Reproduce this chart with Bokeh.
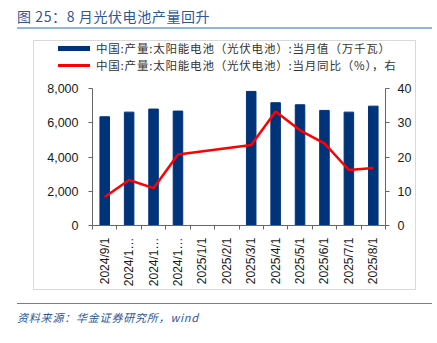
import math
from bokeh.plotting import figure
from bokeh.layouts import column
from bokeh.models import (Range1d, LinearAxis, FixedTicker, NumeralTickFormatter,
                          ColumnDataSource, Div)
from bokeh.embed import file_html
from bokeh.resources import INLINE

# ---- data ----
categories = ["2024/9/1", "2024/1…", "2024/1…", "2024/1…", "2025/1/1", "2025/2/1",
              "2025/3/1", "2025/4/1", "2025/5/1", "2025/6/1", "2025/7/1", "2025/8/1"]
output_10mw = [6350, 6620, 6800, 6680, None, None, 7830, 7170, 7050, 6720, 6620, 6970]
yoy_pct = [8.3, 13.3, 10.9, 20.7, None, None, 23.5, 33.3, 27.8, 24.0, 16.2, 16.8]
left_ticks = [0, 2000, 4000, 6000, 8000]
right_ticks = [0, 10, 20, 30, 40]
bar_label = "中国:产量:太阳能电池（光伏电池）:当月值（万千瓦）"
line_label = "中国:产量:太阳能电池（光伏电池）:当月同比（%），右"
title_text = "图 25：8 月光伏电池产量回升"
source_text = "资料来源：华金证券研究所，wind"

NAVY = "#00337A"
RED = "#FF0000"
AXIS = "#666666"
CJK = "Noto Sans CJK SC"
NUM = "Liberation Sans"

pos = [i + 0.5 for i in range(len(categories))]
bar_src = ColumnDataSource(dict(
    x=[p_ for p_, v in zip(pos, output_10mw) if v is not None],
    top=[v for v in output_10mw if v is not None]))
line_src = ColumnDataSource(dict(
    x=[p_ for p_, v in zip(pos, yoy_pct) if v is not None],
    y=[v for v in yoy_pct if v is not None]))

# ---- main chart ----
p = figure(width=381, height=213, output_backend="svg", toolbar_location=None,
           title=None, x_range=Range1d(0, len(categories)), y_range=Range1d(0, 8000),
           min_border_left=58, min_border_right=30, min_border_top=12, min_border_bottom=63,
           background_fill_color="white", border_fill_color="white")
p.outline_line_color = None
p.grid.visible = False
p.extra_y_ranges = {"yoy": Range1d(0, 40)}

p.vbar(x="x", top="top", bottom=0, width=0.39, source=bar_src,
       fill_color=NAVY, line_color=NAVY)
p.line(x="x", y="y", source=line_src, y_range_name="yoy",
       line_color=RED, line_width=2.5)

xa = p.xaxis[0]
xa.ticker = FixedTicker(ticks=pos, minor_ticks=list(range(len(categories) + 1)))
xa.major_label_overrides = {pp: c for pp, c in zip(pos, categories)}
xa.major_label_orientation = math.pi / 2
xa.major_tick_line_color = None
xa.minor_tick_line_color = AXIS
xa.minor_tick_out = 4
xa.minor_tick_in = 0
xa.axis_line_color = AXIS
xa.major_label_text_font = NUM
xa.major_label_text_font_size = "12px"
xa.major_label_text_color = "#1a1a1a"
xa.major_label_standoff = 6

ya = p.yaxis[0]
ya.ticker = FixedTicker(ticks=left_ticks)
ya.formatter = NumeralTickFormatter(format="0,0")
ya.major_tick_out = 4
ya.major_tick_in = 0
ya.minor_tick_line_color = None
ya.axis_line_color = AXIS
ya.major_tick_line_color = AXIS
ya.major_label_text_font = NUM
ya.major_label_text_font_size = "12.5px"
ya.major_label_text_color = "#1a1a1a"
ya.major_label_standoff = 10

ra = LinearAxis(y_range_name="yoy", ticker=FixedTicker(ticks=right_ticks))
ra.major_tick_out = 4
ra.major_tick_in = 0
ra.minor_tick_line_color = None
ra.axis_line_color = AXIS
ra.major_tick_line_color = AXIS
ra.major_label_text_font = NUM
ra.major_label_text_font_size = "12.5px"
ra.major_label_text_color = "#1a1a1a"
ra.major_label_standoff = 8
p.add_layout(ra, "right")

# ---- legend strip ----
def legend_row(swatch_h, color, label):
    return (f'<div style="height:17px;display:flex;align-items:center;padding-left:24px;">'
            f'<span style="display:inline-block;width:32px;height:{swatch_h}px;'
            f'background:{color};margin-right:6px;"></span>{label}</div>')

legend_div = Div(
    text=(f'<div style="font-family:\'{CJK}\';font-size:11.5px;color:#333333;letter-spacing:0.8px;'
          f'white-space:nowrap;margin-top:-1px;line-height:17px;">'
          + legend_row(5, NAVY, bar_label) + legend_row(2.5, RED, line_label) + '</div>'),
    width=381, height=35, margin=0)

chart_box = column(legend_div, p, spacing=0, margin=(11, 0, 0, 33),
                   styles={"border": "1px solid #D9D9D9"})

title_div = Div(
    text=(f'<div style="font-family:\'{CJK}\';font-size:14px;color:#2F5597;letter-spacing:0.6px;'
          f'padding-top:7px;line-height:18px;white-space:nowrap;">{title_text}</div>'),
    width=415, height=29, margin=(0, 0, 0, 17),
    styles={"border-bottom": "2px solid #8DB8E0"})

source_div = Div(
    text=(f'<div style="font-family:\'{CJK}\';font-size:11px;color:#2F5597;font-style:italic;'
          f'letter-spacing:0.8px;padding-top:6px;line-height:14px;white-space:nowrap;">'
          f'{source_text}</div>'),
    width=415, height=36, margin=(13, 0, 0, 17),
    styles={"border-top": "1.5px solid #3C8DD6"})

layout = column(title_div, chart_box, source_div, spacing=0)
open("out.html", "w").write(file_html(layout, INLINE))
